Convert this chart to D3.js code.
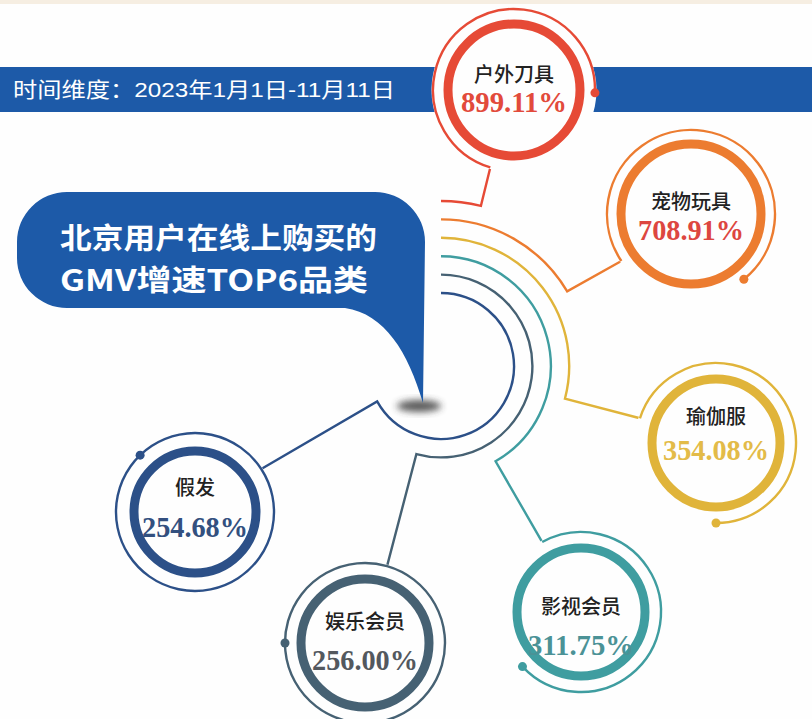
<!DOCTYPE html>
<html><head><meta charset="utf-8">
<script src="https://cdn.jsdelivr.net/npm/d3@7/dist/d3.min.js"></script>
<style>html,body{margin:0;padding:0;background:#fefefe;}svg{display:block;}</style>
</head><body>
<svg id="c" width="812" height="719"></svg>
<script>
// ---- data ----
const categories = ["户外刀具", "宠物玩具", "瑜伽服", "影视会员", "娱乐会员", "假发"];
const values = [899.11, 708.91, 354.08, 311.75, 256.00, 254.68];
const titleLines = ["北京用户在线上购买的", "GMV增速TOP6品类"];
const timeLabel = "时间维度：2023年1月1日-11月11日";

// ---- layout / style (not data) ----
const ringColors = ["#e64a36", "#ec7c30", "#e0b43a", "#3f9da0", "#466173", "#2c5088"];
const valueColors = ["#e24a3b", "#dd4640", "#e3bb48", "#4b9296", "#53585e", "#33507f"];
const layout = [
  {cx: 514, cy: 90,  r: 66, rt: 81, start: 197, end: 452, nameY: 75,  valY: 102},
  {cx: 691, cy: 214, r: 70, rt: 84, start: 236, end: 501, nameY: 202, valY: 230},
  {cx: 716, cy: 443, r: 64, rt: 80, start: 288, end: 540, nameY: 417, valY: 450},
  {cx: 581, cy: 612, r: 64, rt: 80, start: 331, end: 587, nameY: 607, valY: 645},
  {cx: 365, cy: 643, r: 64, rt: 80, start: 16,  end: 630, nameY: 622, valY: 660},
  {cx: 195, cy: 512, r: 61, rt: 79, start: 57,  end: 676, nameY: 488, valY: 527}
];
const hub = {x: 441, y: 366};

const svg = d3.select("#c");
const rad = d => (d - 90) * Math.PI / 180; // clockwise-from-top degrees -> svg angle
const pt = (cx, cy, r, deg) => [cx + r * Math.sin(deg * Math.PI / 180), cy - r * Math.cos(deg * Math.PI / 180)];

// scales for the concentric connectors
const rScale = d3.scalePoint().domain(categories).range([165, 73]);
const aScale = d3.scalePoint().domain(categories).range([14, 241]);

// defs
const defs = svg.append("defs");
const f = defs.append("filter").attr("id", "blur").attr("x", "-50%").attr("y", "-50%").attr("width", "200%").attr("height", "200%");
f.append("feGaussianBlur").attr("stdDeviation", 3.5);

// background top strip
svg.append("rect").attr("x", 0).attr("y", 0).attr("width", 812).attr("height", 4).attr("fill", "#f6eee2");

// banner
svg.append("rect").attr("x", 0).attr("y", 67).attr("width", 812).attr("height", 45).attr("fill", "#1d5aa8");
svg.append("text").attr("x", 13).attr("y", 97)
  .attr("font-family", "'Liberation Sans', Arial, 'Noto Sans CJK SC', sans-serif").attr("font-size", 21)
  .attr("fill", "#fff").attr("textLength", 382).attr("lengthAdjust", "spacingAndGlyphs")
  .text(timeLabel);

// speech bubble
svg.append("ellipse").attr("cx", 419).attr("cy", 406).attr("rx", 22).attr("ry", 6)
  .attr("fill", "#333").attr("opacity", 0.8).attr("filter", "url(#blur)");
const bp = d3.path();
bp.moveTo(67, 192);
bp.lineTo(375, 192);
bp.arcTo(425, 192, 425, 242, 50);
bp.lineTo(423, 403);
bp.bezierCurveTo(408, 352, 385, 314, 345, 308);
bp.lineTo(67, 308);
bp.arcTo(17, 308, 17, 258, 50);
bp.lineTo(17, 242);
bp.arcTo(17, 192, 67, 192, 50);
bp.closePath();
svg.append("path").attr("d", bp.toString()).attr("fill", "#1d5aa8");
const title = svg.append("text")
  .attr("font-family", "'Noto Sans CJK SC', sans-serif").attr("font-size", 29).attr("font-weight", 600)
  .attr("fill", "#fff");
title.selectAll("tspan").data(titleLines).join("tspan")
  .attr("x", 60).attr("y", (d, i) => 249 + i * 42)
  .attr("textLength", (d, i) => i === 0 ? 317 : 308).attr("lengthAdjust", "spacingAndGlyphs")
  .text(d => d);

// connectors
categories.forEach((c, i) => {
  const L = layout[i];
  const R = rScale(c), A = aScale(c);
  const p = d3.path();
  const s = pt(hub.x, hub.y, R, 0);
  p.moveTo(s[0], s[1]);
  p.arc(hub.x, hub.y, R, rad(0), rad(A), false);
  const e = pt(L.cx, L.cy, L.rt, L.start);
  p.lineTo(e[0], e[1]);
  svg.append("path").attr("d", p.toString()).attr("fill", "none")
    .attr("stroke", ringColors[i]).attr("stroke-width", 2.4).attr("stroke-linejoin", "miter");
});

// circles
categories.forEach((c, i) => {
  const L = layout[i];
  const g = svg.append("g");
  g.append("circle").attr("cx", L.cx).attr("cy", L.cy).attr("r", L.rt + 1.5).attr("fill", "#fefefe");
  const tp = d3.path();
  const s = pt(L.cx, L.cy, L.rt, L.start);
  tp.moveTo(s[0], s[1]);
  tp.arc(L.cx, L.cy, L.rt, rad(L.start), rad(L.end), false);
  g.append("path").attr("d", tp.toString()).attr("fill", "none")
    .attr("stroke", ringColors[i]).attr("stroke-width", 2.4);
  const d = pt(L.cx, L.cy, L.rt, L.end);
  g.append("circle").attr("cx", d[0]).attr("cy", d[1]).attr("r", 4.5).attr("fill", ringColors[i]);
  g.append("circle").attr("cx", L.cx).attr("cy", L.cy).attr("r", L.r)
    .attr("fill", "none").attr("stroke", ringColors[i]).attr("stroke-width", 9);
  const t = g.append("text").attr("text-anchor", "middle");
  t.append("tspan").attr("x", L.cx).attr("y", L.nameY + 7)
    .attr("font-family", "'Noto Sans CJK SC', sans-serif").attr("font-size", 20).attr("font-weight", 500)
    .attr("fill", "#222").text(c);
  t.append("tspan").attr("x", L.cx).attr("y", L.valY + 10)
    .attr("font-family", "'Liberation Serif', serif").attr("font-size", 29).attr("font-weight", 700)
    .attr("fill", valueColors[i]).attr("textLength", 106).attr("lengthAdjust", "spacingAndGlyphs")
    .text(values[i].toFixed(2) + "%");
});
</script>
</body></html>
